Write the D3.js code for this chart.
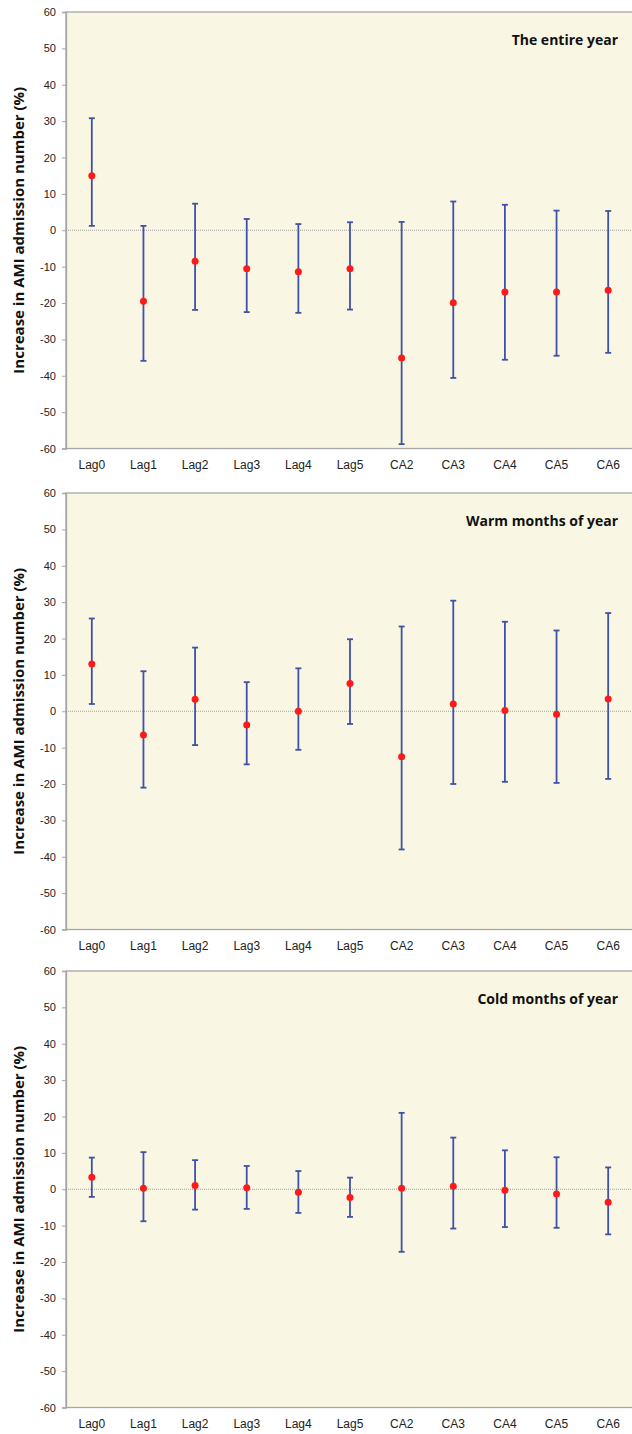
<!DOCTYPE html>
<html>
<head>
<meta charset="utf-8">
<script src="https://cdn.jsdelivr.net/npm/d3@7"></script>
<style>
  body { margin: 0; background: #fff; }
  svg { display: block; font-family: "Open Sans", "Noto Sans", sans-serif; }
</style>
</head>
<body>
<div id="chart"></div>
<script>
// Categories (shared by the three panels)
const categories = ['Lag0', 'Lag1', 'Lag2', 'Lag3', 'Lag4', 'Lag5', 'CA2', 'CA3', 'CA4', 'CA5', 'CA6'];
const yTicks = [60, 50, 40, 30, 20, 10, 0, -10, -20, -30, -40, -50, -60];
const panelTitles = ['The entire year', 'Warm months of year', 'Cold months of year'];

// The entire year
const yearEst = [15.0, -19.5, -8.5, -10.6, -11.4, -10.6, -35.1, -19.9, -17.0, -17.0, -16.5];
const yearLow = [1.2, -35.9, -21.9, -22.5, -22.7, -21.8, -58.8, -40.6, -35.6, -34.5, -33.7];
const yearHigh = [30.8, 1.2, 7.3, 3.1, 1.7, 2.2, 2.3, 7.9, 7.0, 5.4, 5.3];

// Warm months
const warmEst = [13.0, -6.5, 3.3, -3.8, 0.0, 7.6, -12.5, 2.0, 0.2, -0.8, 3.4];
const warmLow = [2.0, -21.0, -9.3, -14.6, -10.6, -3.5, -38.0, -20.0, -19.4, -19.7, -18.6];
const warmHigh = [25.5, 11.0, 17.5, 8.0, 11.8, 19.8, 23.3, 30.4, 24.6, 22.2, 27.0];

// Cold months
const coldEst = [3.3, 0.3, 1.0, 0.4, -0.8, -2.3, 0.3, 0.8, -0.3, -1.3, -3.6];
const coldLow = [-2.1, -8.8, -5.6, -5.4, -6.5, -7.6, -17.2, -10.8, -10.4, -10.6, -12.4];
const coldHigh = [8.7, 10.2, 8.0, 6.4, 5.0, 3.2, 21.0, 14.2, 10.7, 8.8, 6.0];

const panels = [
  { title: panelTitles[0], est: yearEst, low: yearLow, high: yearHigh, top: 12 },
  { title: panelTitles[1], est: warmEst, low: warmLow, high: warmHigh, top: 493 },
  { title: panelTitles[2], est: coldEst, low: coldLow, high: coldHigh, top: 971 }
];

const width = 632, height = 1434;
const plotLeft = 66, plotRight = 634, plotH = 436.5;

const svg = d3.select('#chart').append('svg')
  .attr('width', width)
  .attr('height', height);

const x = d3.scaleBand().domain(categories).range([plotLeft, plotRight]);

panels.forEach(p => {
  const y = d3.scaleLinear().domain([-60, 60]).range([p.top + plotH, p.top]);
  const g = svg.append('g');

  // plot background
  g.append('rect')
    .attr('x', plotLeft)
    .attr('y', p.top)
    .attr('width', plotRight - plotLeft)
    .attr('height', plotH)
    .style('fill', '#f9f7e3')
    .style('stroke', '#a6a6a6')
    .style('stroke-width', 1.3);

  // y axis (plain hyphen for negatives, like the original)
  const yAxis = g.append('g')
    .attr('transform', `translate(${plotLeft},0)`)
    .call(d3.axisLeft(y).tickValues(yTicks).tickFormat(d => String(d)).tickSize(4).tickPadding(6));
  yAxis.select('.domain').style('stroke', '#a6a6a6').style('stroke-width', 1.3);
  yAxis.selectAll('.tick line').style('stroke', '#a6a6a6');
  yAxis.selectAll('.tick text')
    .style('font-size', '11px')
    .style('fill', '#222');

  // x axis labels
  const xAxis = g.append('g')
    .attr('transform', `translate(0,${p.top + plotH})`)
    .call(d3.axisBottom(x).tickSize(0).tickPadding(12));
  xAxis.select('.domain').remove();
  xAxis.selectAll('.tick text')
    .style('font-size', '12px')
    .style('fill', '#222');

  // zero reference line
  g.append('line')
    .attr('x1', plotLeft)
    .attr('x2', plotRight)
    .attr('y1', y(0))
    .attr('y2', y(0))
    .style('stroke', '#8c8c8c')
    .style('stroke-width', 0.8)
    .style('stroke-dasharray', '1,1');

  // error bars
  const capW = 3;
  categories.forEach((c, i) => {
    const cx = x(c) + x.bandwidth() / 2;
    const bar = g.append('g').style('stroke', '#3f51a8').style('stroke-width', 1.8);
    bar.append('line').attr('x1', cx).attr('x2', cx).attr('y1', y(p.high[i])).attr('y2', y(p.low[i]));
    bar.append('line').attr('x1', cx - capW).attr('x2', cx + capW).attr('y1', y(p.high[i])).attr('y2', y(p.high[i]));
    bar.append('line').attr('x1', cx - capW).attr('x2', cx + capW).attr('y1', y(p.low[i])).attr('y2', y(p.low[i]));

    g.append('circle')
      .attr('cx', cx)
      .attr('cy', y(p.est[i]))
      .attr('r', 3.5)
      .style('fill', '#ff1a1a');
  });

  // panel title
  g.append('text')
    .attr('x', 618)
    .attr('y', p.top + 33)
    .attr('text-anchor', 'end')
    .style('font-size', '14px')
    .style('font-weight', 'bold')
    .style('fill', '#111')
    .text(p.title);

  // y axis title
  g.append('text')
    .attr('transform', `translate(24,${p.top + plotH / 2}) rotate(-90)`)
    .attr('text-anchor', 'middle')
    .style('font-size', '15px')
    .style('font-weight', 'bold')
    .style('fill', '#111')
    .text('Increase in AMI admission number (%)');
});
</script>
</body>
</html>
